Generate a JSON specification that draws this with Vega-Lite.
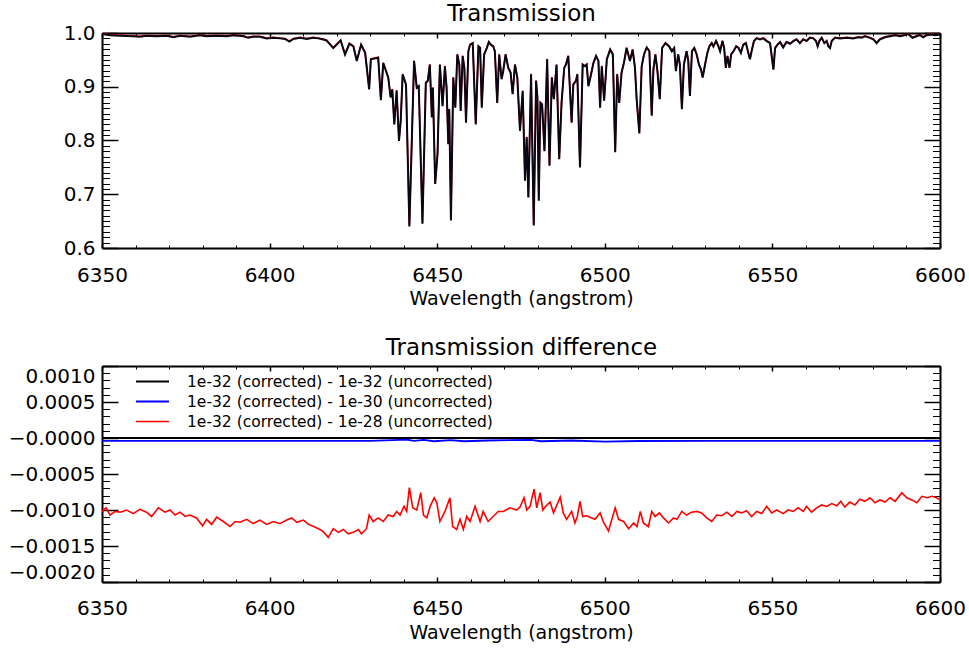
{
  "$schema": "https://vega.github.io/schema/vega-lite/v6.json",
  "background": "white",
  "padding": {"left": 8, "top": 2, "right": 4, "bottom": 4},
  "config": {
    "view": {"stroke": null},
    "font": "DejaVu Sans",
    "axis": {"grid": false, "minExtent": 0, "domainColor": "#000", "domainWidth": 2, "tickColor": "#000", "labelColor": "#000", "labelFont": "DejaVu Sans", "labelFontSize": 20, "titleFont": "DejaVu Sans", "titleFontSize": 19, "titleFontWeight": "normal", "titleColor": "#000"}
  },
  "datasets": {
    "trans": [
      {"w":6350,"t":0.998},{"w":6352.4,"t":0.996},{"w":6355.4,"t":0.995},{"w":6359.3,"t":0.994},{"w":6361.3,"t":0.993},{"w":6363.3,"t":0.995},{"w":6366.3,"t":0.994},{"w":6369.3,"t":0.995},{"w":6371.3,"t":0.992},{"w":6373.3,"t":0.995},{"w":6376.3,"t":0.993},{"w":6379.2,"t":0.996},{"w":6381.2,"t":0.994},{"w":6384.2,"t":0.995},{"w":6387.2,"t":0.994},{"w":6389.2,"t":0.996},{"w":6392.2,"t":0.994},{"w":6393.6,"t":0.991},{"w":6395.1,"t":0.993},{"w":6397.1,"t":0.993},{"w":6399.1,"t":0.990},{"w":6401.1,"t":0.991},{"w":6403.1,"t":0.990},{"w":6404.6,"t":0.989},{"w":6405.9,"t":0.984},{"w":6407.1,"t":0.989},{"w":6409.1,"t":0.991},{"w":6411.1,"t":0.989},{"w":6413.0,"t":0.991},{"w":6414.5,"t":0.990},{"w":6416.0,"t":0.988},{"w":6417.0,"t":0.986},{"w":6419.0,"t":0.972},{"w":6421.2,"t":0.986},{"w":6422.5,"t":0.960},{"w":6423.8,"t":0.980},{"w":6425.0,"t":0.975},{"w":6426.0,"t":0.948},{"w":6427.3,"t":0.978},{"w":6428.5,"t":0.963},{"w":6429.7,"t":0.895},{"w":6430.2,"t":0.951},{"w":6432.4,"t":0.954},{"w":6433.2,"t":0.875},{"w":6433.9,"t":0.944},{"w":6434.9,"t":0.926},{"w":6435.4,"t":0.917},{"w":6436.1,"t":0.880},{"w":6436.6,"t":0.895},{"w":6437.2,"t":0.830},{"w":6437.9,"t":0.893},{"w":6438.6,"t":0.799},{"w":6439.1,"t":0.835},{"w":6439.7,"t":0.923},{"w":6440.7,"t":0.904},{"w":6441.7,"t":0.640},{"w":6443.1,"t":0.948},{"w":6443.9,"t":0.898},{"w":6444.5,"t":0.901},{"w":6445.6,"t":0.645},{"w":6446.6,"t":0.907},{"w":6447.2,"t":0.911},{"w":6447.8,"t":0.941},{"w":6448.4,"t":0.843},{"w":6448.7,"t":0.898},{"w":6449.4,"t":0.719},{"w":6450.1,"t":0.775},{"w":6450.8,"t":0.941},{"w":6451.6,"t":0.864},{"w":6452.3,"t":0.938},{"w":6452.8,"t":0.898},{"w":6453.3,"t":0.793},{"w":6453.6,"t":0.858},{"w":6454.1,"t":0.651},{"w":6454.8,"t":0.917},{"w":6455.4,"t":0.861},{"w":6456.0,"t":0.960},{"w":6456.6,"t":0.941},{"w":6457.0,"t":0.855},{"w":6457.6,"t":0.957},{"w":6458.1,"t":0.935},{"w":6458.6,"t":0.833},{"w":6459.3,"t":0.966},{"w":6459.8,"t":0.978},{"w":6460.6,"t":0.981},{"w":6461.5,"t":0.830},{"w":6462.3,"t":0.975},{"w":6462.8,"t":0.972},{"w":6463.3,"t":0.861},{"w":6464.0,"t":0.960},{"w":6464.8,"t":0.972},{"w":6465.4,"t":0.983},{"w":6466.0,"t":0.978},{"w":6466.7,"t":0.975},{"w":6467.2,"t":0.966},{"w":6467.9,"t":0.870},{"w":6468.5,"t":0.960},{"w":6469.2,"t":0.914},{"w":6469.7,"t":0.929},{"w":6470.4,"t":0.960},{"w":6471.2,"t":0.935},{"w":6471.9,"t":0.926},{"w":6472.5,"t":0.886},{"w":6473.2,"t":0.941},{"w":6473.9,"t":0.917},{"w":6474.7,"t":0.818},{"w":6475.5,"t":0.892},{"w":6476.2,"t":0.725},{"w":6476.7,"t":0.806},{"w":6477.2,"t":0.694},{"w":6478.0,"t":0.923},{"w":6478.8,"t":0.642},{"w":6479.5,"t":0.911},{"w":6479.9,"t":0.880},{"w":6480.3,"t":0.688},{"w":6480.8,"t":0.870},{"w":6481.3,"t":0.867},{"w":6482.0,"t":0.780},{"w":6482.8,"t":0.951},{"w":6483.5,"t":0.753},{"w":6484.2,"t":0.917},{"w":6484.8,"t":0.877},{"w":6485.6,"t":0.941},{"w":6486.4,"t":0.765},{"w":6487.1,"t":0.870},{"w":6487.9,"t":0.935},{"w":6488.4,"t":0.941},{"w":6489.1,"t":0.957},{"w":6490.1,"t":0.833},{"w":6490.6,"t":0.904},{"w":6491.4,"t":0.911},{"w":6491.8,"t":0.923},{"w":6492.6,"t":0.750},{"w":6493.4,"t":0.941},{"w":6494.1,"t":0.938},{"w":6494.6,"t":0.941},{"w":6495.1,"t":0.901},{"w":6495.8,"t":0.920},{"w":6496.6,"t":0.944},{"w":6497.4,"t":0.957},{"w":6498.1,"t":0.948},{"w":6498.6,"t":0.861},{"w":6499.1,"t":0.938},{"w":6499.8,"t":0.874},{"w":6500.6,"t":0.951},{"w":6501.6,"t":0.969},{"w":6502.4,"t":0.960},{"w":6503.1,"t":0.778},{"w":6503.7,"t":0.923},{"w":6504.3,"t":0.870},{"w":6505.0,"t":0.926},{"w":6505.7,"t":0.944},{"w":6506.5,"t":0.972},{"w":6507.0,"t":0.960},{"w":6507.5,"t":0.948},{"w":6508.3,"t":0.969},{"w":6509.0,"t":0.935},{"w":6509.5,"t":0.877},{"w":6510.3,"t":0.813},{"w":6511.0,"t":0.938},{"w":6511.7,"t":0.960},{"w":6512.5,"t":0.973},{"w":6513.3,"t":0.966},{"w":6514.0,"t":0.846},{"w":6514.5,"t":0.932},{"w":6515.1,"t":0.960},{"w":6515.7,"t":0.929},{"w":6516.4,"t":0.877},{"w":6517.1,"t":0.972},{"w":6518.1,"t":0.981},{"w":6519.2,"t":0.975},{"w":6520.0,"t":0.966},{"w":6520.7,"t":0.972},{"w":6521.2,"t":0.929},{"w":6521.9,"t":0.960},{"w":6522.4,"t":0.941},{"w":6523.0,"t":0.858},{"w":6523.6,"t":0.941},{"w":6524.4,"t":0.966},{"w":6524.9,"t":0.948},{"w":6525.4,"t":0.883},{"w":6526.0,"t":0.966},{"w":6526.7,"t":0.972},{"w":6527.4,"t":0.960},{"w":6528.1,"t":0.941},{"w":6528.7,"t":0.932},{"w":6529.2,"t":0.917},{"w":6529.9,"t":0.941},{"w":6530.6,"t":0.963},{"w":6531.2,"t":0.975},{"w":6531.9,"t":0.981},{"w":6532.4,"t":0.975},{"w":6533.2,"t":0.985},{"w":6533.9,"t":0.975},{"w":6534.4,"t":0.966},{"w":6535.1,"t":0.985},{"w":6535.6,"t":0.972},{"w":6536.1,"t":0.935},{"w":6536.6,"t":0.957},{"w":6537.2,"t":0.935},{"w":6537.7,"t":0.960},{"w":6538.4,"t":0.966},{"w":6539.2,"t":0.975},{"w":6539.9,"t":0.972},{"w":6540.6,"t":0.963},{"w":6541.3,"t":0.978},{"w":6542.1,"t":0.981},{"w":6542.8,"t":0.963},{"w":6543.3,"t":0.951},{"w":6543.8,"t":0.966},{"w":6544.5,"t":0.985},{"w":6545.3,"t":0.990},{"w":6546.3,"t":0.988},{"w":6547.3,"t":0.990},{"w":6548.3,"t":0.985},{"w":6549.3,"t":0.981},{"w":6550.3,"t":0.932},{"w":6550.8,"t":0.972},{"w":6551.5,"t":0.978},{"w":6552.3,"t":0.983},{"w":6553.2,"t":0.973},{"w":6554.2,"t":0.983},{"w":6555.3,"t":0.980},{"w":6556.3,"t":0.985},{"w":6557.2,"t":0.988},{"w":6558.2,"t":0.981},{"w":6559.2,"t":0.988},{"w":6560.2,"t":0.985},{"w":6561.2,"t":0.991},{"w":6562.2,"t":0.990},{"w":6563.0,"t":0.985},{"w":6563.5,"t":0.975},{"w":6564.0,"t":0.985},{"w":6564.7,"t":0.991},{"w":6565.5,"t":0.981},{"w":6566.2,"t":0.985},{"w":6566.7,"t":0.975},{"w":6567.2,"t":0.972},{"w":6567.7,"t":0.985},{"w":6568.7,"t":0.991},{"w":6570.2,"t":0.990},{"w":6572.2,"t":0.991},{"w":6574.1,"t":0.990},{"w":6575.6,"t":0.992},{"w":6576.6,"t":0.991},{"w":6577.6,"t":0.994},{"w":6579.1,"t":0.991},{"w":6580.1,"t":0.988},{"w":6581.1,"t":0.981},{"w":6582.1,"t":0.988},{"w":6583.6,"t":0.992},{"w":6585.1,"t":0.994},{"w":6586.6,"t":0.996},{"w":6588.1,"t":0.994},{"w":6589.6,"t":0.996},{"w":6590.5,"t":0.998},{"w":6591.8,"t":0.991},{"w":6593.0,"t":0.994},{"w":6594.0,"t":0.996},{"w":6595.0,"t":0.992},{"w":6596.0,"t":0.996},{"w":6597.5,"t":0.997},{"w":6598.5,"t":0.996},{"w":6600,"t":0.997}
    ],
    "diff": [
      {"w":6350,"v":0,"s":"1e-32 (corrected) - 1e-32 (uncorrected)"},{"w":6450,"v":0,"s":"1e-32 (corrected) - 1e-32 (uncorrected)"},{"w":6500,"v":0,"s":"1e-32 (corrected) - 1e-32 (uncorrected)"},{"w":6600,"v":0,"s":"1e-32 (corrected) - 1e-32 (uncorrected)"},
      {"w":6350,"v":-0.00004,"s":"1e-32 (corrected) - 1e-30 (uncorrected)"},{"w":6400,"v":-0.00004,"s":"1e-32 (corrected) - 1e-30 (uncorrected)"},{"w":6430,"v":-0.00004,"s":"1e-32 (corrected) - 1e-30 (uncorrected)"},{"w":6441,"v":-0.000022,"s":"1e-32 (corrected) - 1e-30 (uncorrected)"},{"w":6443,"v":-0.00004,"s":"1e-32 (corrected) - 1e-30 (uncorrected)"},{"w":6446,"v":-0.000025,"s":"1e-32 (corrected) - 1e-30 (uncorrected)"},{"w":6449,"v":-0.000045,"s":"1e-32 (corrected) - 1e-30 (uncorrected)"},{"w":6454,"v":-0.00003,"s":"1e-32 (corrected) - 1e-30 (uncorrected)"},{"w":6458,"v":-0.000045,"s":"1e-32 (corrected) - 1e-30 (uncorrected)"},{"w":6465,"v":-0.000035,"s":"1e-32 (corrected) - 1e-30 (uncorrected)"},{"w":6478,"v":-0.000025,"s":"1e-32 (corrected) - 1e-30 (uncorrected)"},{"w":6481,"v":-0.000045,"s":"1e-32 (corrected) - 1e-30 (uncorrected)"},{"w":6490,"v":-0.000035,"s":"1e-32 (corrected) - 1e-30 (uncorrected)"},{"w":6500,"v":-0.00005,"s":"1e-32 (corrected) - 1e-30 (uncorrected)"},{"w":6510,"v":-0.000042,"s":"1e-32 (corrected) - 1e-30 (uncorrected)"},{"w":6530,"v":-0.00004,"s":"1e-32 (corrected) - 1e-30 (uncorrected)"},{"w":6600,"v":-0.00004,"s":"1e-32 (corrected) - 1e-30 (uncorrected)"},
      {"w":6350,"v":-0.00102,"s":"1e-32 (corrected) - 1e-28 (uncorrected)"},{"w":6351.2,"v":-0.00097,"s":"1e-32 (corrected) - 1e-28 (uncorrected)"},{"w":6352.4,"v":-0.00107,"s":"1e-32 (corrected) - 1e-28 (uncorrected)"},{"w":6353.9,"v":-0.00102,"s":"1e-32 (corrected) - 1e-28 (uncorrected)"},{"w":6355.4,"v":-0.00103,"s":"1e-32 (corrected) - 1e-28 (uncorrected)"},{"w":6357.4,"v":-0.001,"s":"1e-32 (corrected) - 1e-28 (uncorrected)"},{"w":6359.3,"v":-0.00105,"s":"1e-32 (corrected) - 1e-28 (uncorrected)"},{"w":6361.3,"v":-0.00099,"s":"1e-32 (corrected) - 1e-28 (uncorrected)"},{"w":6363.3,"v":-0.00103,"s":"1e-32 (corrected) - 1e-28 (uncorrected)"},{"w":6364.8,"v":-0.00109,"s":"1e-32 (corrected) - 1e-28 (uncorrected)"},{"w":6366.8,"v":-0.00097,"s":"1e-32 (corrected) - 1e-28 (uncorrected)"},{"w":6368.8,"v":-0.00103,"s":"1e-32 (corrected) - 1e-28 (uncorrected)"},{"w":6370.3,"v":-0.001,"s":"1e-32 (corrected) - 1e-28 (uncorrected)"},{"w":6371.8,"v":-0.00107,"s":"1e-32 (corrected) - 1e-28 (uncorrected)"},{"w":6373.3,"v":-0.00103,"s":"1e-32 (corrected) - 1e-28 (uncorrected)"},{"w":6374.8,"v":-0.00109,"s":"1e-32 (corrected) - 1e-28 (uncorrected)"},{"w":6376.2,"v":-0.00107,"s":"1e-32 (corrected) - 1e-28 (uncorrected)"},{"w":6378.2,"v":-0.00111,"s":"1e-32 (corrected) - 1e-28 (uncorrected)"},{"w":6380.0,"v":-0.00122,"s":"1e-32 (corrected) - 1e-28 (uncorrected)"},{"w":6381.2,"v":-0.00113,"s":"1e-32 (corrected) - 1e-28 (uncorrected)"},{"w":6382.7,"v":-0.0012,"s":"1e-32 (corrected) - 1e-28 (uncorrected)"},{"w":6384.2,"v":-0.0011,"s":"1e-32 (corrected) - 1e-28 (uncorrected)"},{"w":6386.2,"v":-0.00116,"s":"1e-32 (corrected) - 1e-28 (uncorrected)"},{"w":6388.2,"v":-0.00123,"s":"1e-32 (corrected) - 1e-28 (uncorrected)"},{"w":6389.7,"v":-0.00116,"s":"1e-32 (corrected) - 1e-28 (uncorrected)"},{"w":6391.2,"v":-0.00117,"s":"1e-32 (corrected) - 1e-28 (uncorrected)"},{"w":6393.2,"v":-0.00113,"s":"1e-32 (corrected) - 1e-28 (uncorrected)"},{"w":6395.1,"v":-0.00119,"s":"1e-32 (corrected) - 1e-28 (uncorrected)"},{"w":6397.1,"v":-0.00114,"s":"1e-32 (corrected) - 1e-28 (uncorrected)"},{"w":6399.1,"v":-0.0012,"s":"1e-32 (corrected) - 1e-28 (uncorrected)"},{"w":6401.1,"v":-0.00116,"s":"1e-32 (corrected) - 1e-28 (uncorrected)"},{"w":6403.1,"v":-0.00119,"s":"1e-32 (corrected) - 1e-28 (uncorrected)"},{"w":6405.1,"v":-0.00114,"s":"1e-32 (corrected) - 1e-28 (uncorrected)"},{"w":6406.6,"v":-0.00111,"s":"1e-32 (corrected) - 1e-28 (uncorrected)"},{"w":6408.1,"v":-0.00117,"s":"1e-32 (corrected) - 1e-28 (uncorrected)"},{"w":6410.1,"v":-0.00114,"s":"1e-32 (corrected) - 1e-28 (uncorrected)"},{"w":6411.6,"v":-0.0012,"s":"1e-32 (corrected) - 1e-28 (uncorrected)"},{"w":6413.1,"v":-0.00123,"s":"1e-32 (corrected) - 1e-28 (uncorrected)"},{"w":6414.6,"v":-0.00126,"s":"1e-32 (corrected) - 1e-28 (uncorrected)"},{"w":6416.0,"v":-0.0013,"s":"1e-32 (corrected) - 1e-28 (uncorrected)"},{"w":6417.5,"v":-0.00138,"s":"1e-32 (corrected) - 1e-28 (uncorrected)"},{"w":6419.0,"v":-0.00126,"s":"1e-32 (corrected) - 1e-28 (uncorrected)"},{"w":6420.5,"v":-0.00131,"s":"1e-32 (corrected) - 1e-28 (uncorrected)"},{"w":6422.0,"v":-0.00127,"s":"1e-32 (corrected) - 1e-28 (uncorrected)"},{"w":6423.5,"v":-0.00133,"s":"1e-32 (corrected) - 1e-28 (uncorrected)"},{"w":6425.0,"v":-0.00131,"s":"1e-32 (corrected) - 1e-28 (uncorrected)"},{"w":6426.5,"v":-0.00127,"s":"1e-32 (corrected) - 1e-28 (uncorrected)"},{"w":6427.4,"v":-0.00133,"s":"1e-32 (corrected) - 1e-28 (uncorrected)"},{"w":6428.9,"v":-0.00126,"s":"1e-32 (corrected) - 1e-28 (uncorrected)"},{"w":6429.7,"v":-0.00107,"s":"1e-32 (corrected) - 1e-28 (uncorrected)"},{"w":6430.9,"v":-0.00116,"s":"1e-32 (corrected) - 1e-28 (uncorrected)"},{"w":6432.4,"v":-0.00111,"s":"1e-32 (corrected) - 1e-28 (uncorrected)"},{"w":6433.9,"v":-0.00116,"s":"1e-32 (corrected) - 1e-28 (uncorrected)"},{"w":6435.4,"v":-0.00107,"s":"1e-32 (corrected) - 1e-28 (uncorrected)"},{"w":6436.9,"v":-0.00109,"s":"1e-32 (corrected) - 1e-28 (uncorrected)"},{"w":6437.9,"v":-0.00102,"s":"1e-32 (corrected) - 1e-28 (uncorrected)"},{"w":6438.9,"v":-0.00107,"s":"1e-32 (corrected) - 1e-28 (uncorrected)"},{"w":6440.1,"v":-0.00095,"s":"1e-32 (corrected) - 1e-28 (uncorrected)"},{"w":6440.9,"v":-0.00102,"s":"1e-32 (corrected) - 1e-28 (uncorrected)"},{"w":6441.7,"v":-0.00069,"s":"1e-32 (corrected) - 1e-28 (uncorrected)"},{"w":6442.7,"v":-0.00097,"s":"1e-32 (corrected) - 1e-28 (uncorrected)"},{"w":6443.9,"v":-0.001,"s":"1e-32 (corrected) - 1e-28 (uncorrected)"},{"w":6445.1,"v":-0.00076,"s":"1e-32 (corrected) - 1e-28 (uncorrected)"},{"w":6445.9,"v":-0.00107,"s":"1e-32 (corrected) - 1e-28 (uncorrected)"},{"w":6446.9,"v":-0.00111,"s":"1e-32 (corrected) - 1e-28 (uncorrected)"},{"w":6447.9,"v":-0.00095,"s":"1e-32 (corrected) - 1e-28 (uncorrected)"},{"w":6449.1,"v":-0.00083,"s":"1e-32 (corrected) - 1e-28 (uncorrected)"},{"w":6449.9,"v":-0.0009,"s":"1e-32 (corrected) - 1e-28 (uncorrected)"},{"w":6450.8,"v":-0.00116,"s":"1e-32 (corrected) - 1e-28 (uncorrected)"},{"w":6452.3,"v":-0.00102,"s":"1e-32 (corrected) - 1e-28 (uncorrected)"},{"w":6453.8,"v":-0.00083,"s":"1e-32 (corrected) - 1e-28 (uncorrected)"},{"w":6454.6,"v":-0.00123,"s":"1e-32 (corrected) - 1e-28 (uncorrected)"},{"w":6455.8,"v":-0.00127,"s":"1e-32 (corrected) - 1e-28 (uncorrected)"},{"w":6456.8,"v":-0.00113,"s":"1e-32 (corrected) - 1e-28 (uncorrected)"},{"w":6457.8,"v":-0.00127,"s":"1e-32 (corrected) - 1e-28 (uncorrected)"},{"w":6458.8,"v":-0.00109,"s":"1e-32 (corrected) - 1e-28 (uncorrected)"},{"w":6459.8,"v":-0.00116,"s":"1e-32 (corrected) - 1e-28 (uncorrected)"},{"w":6461.3,"v":-0.00095,"s":"1e-32 (corrected) - 1e-28 (uncorrected)"},{"w":6462.8,"v":-0.00116,"s":"1e-32 (corrected) - 1e-28 (uncorrected)"},{"w":6463.7,"v":-0.00102,"s":"1e-32 (corrected) - 1e-28 (uncorrected)"},{"w":6465.2,"v":-0.00116,"s":"1e-32 (corrected) - 1e-28 (uncorrected)"},{"w":6466.7,"v":-0.00109,"s":"1e-32 (corrected) - 1e-28 (uncorrected)"},{"w":6468.2,"v":-0.00102,"s":"1e-32 (corrected) - 1e-28 (uncorrected)"},{"w":6469.7,"v":-0.00102,"s":"1e-32 (corrected) - 1e-28 (uncorrected)"},{"w":6471.7,"v":-0.00097,"s":"1e-32 (corrected) - 1e-28 (uncorrected)"},{"w":6473.7,"v":-0.001,"s":"1e-32 (corrected) - 1e-28 (uncorrected)"},{"w":6474.7,"v":-0.00096,"s":"1e-32 (corrected) - 1e-28 (uncorrected)"},{"w":6475.9,"v":-0.00083,"s":"1e-32 (corrected) - 1e-28 (uncorrected)"},{"w":6476.7,"v":-0.001,"s":"1e-32 (corrected) - 1e-28 (uncorrected)"},{"w":6477.7,"v":-0.00095,"s":"1e-32 (corrected) - 1e-28 (uncorrected)"},{"w":6478.9,"v":-0.00071,"s":"1e-32 (corrected) - 1e-28 (uncorrected)"},{"w":6479.7,"v":-0.00097,"s":"1e-32 (corrected) - 1e-28 (uncorrected)"},{"w":6480.7,"v":-0.00076,"s":"1e-32 (corrected) - 1e-28 (uncorrected)"},{"w":6481.5,"v":-0.001,"s":"1e-32 (corrected) - 1e-28 (uncorrected)"},{"w":6482.7,"v":-0.00093,"s":"1e-32 (corrected) - 1e-28 (uncorrected)"},{"w":6483.7,"v":-0.00089,"s":"1e-32 (corrected) - 1e-28 (uncorrected)"},{"w":6484.7,"v":-0.00104,"s":"1e-32 (corrected) - 1e-28 (uncorrected)"},{"w":6485.7,"v":-0.00093,"s":"1e-32 (corrected) - 1e-28 (uncorrected)"},{"w":6486.7,"v":-0.00082,"s":"1e-32 (corrected) - 1e-28 (uncorrected)"},{"w":6487.6,"v":-0.00104,"s":"1e-32 (corrected) - 1e-28 (uncorrected)"},{"w":6488.6,"v":-0.00113,"s":"1e-32 (corrected) - 1e-28 (uncorrected)"},{"w":6490.1,"v":-0.00102,"s":"1e-32 (corrected) - 1e-28 (uncorrected)"},{"w":6491.1,"v":-0.00118,"s":"1e-32 (corrected) - 1e-28 (uncorrected)"},{"w":6491.8,"v":-0.00109,"s":"1e-32 (corrected) - 1e-28 (uncorrected)"},{"w":6492.6,"v":-0.00088,"s":"1e-32 (corrected) - 1e-28 (uncorrected)"},{"w":6493.4,"v":-0.00109,"s":"1e-32 (corrected) - 1e-28 (uncorrected)"},{"w":6494.6,"v":-0.00108,"s":"1e-32 (corrected) - 1e-28 (uncorrected)"},{"w":6496.1,"v":-0.00111,"s":"1e-32 (corrected) - 1e-28 (uncorrected)"},{"w":6497.1,"v":-0.00113,"s":"1e-32 (corrected) - 1e-28 (uncorrected)"},{"w":6498.6,"v":-0.00104,"s":"1e-32 (corrected) - 1e-28 (uncorrected)"},{"w":6499.6,"v":-0.00117,"s":"1e-32 (corrected) - 1e-28 (uncorrected)"},{"w":6501.1,"v":-0.00129,"s":"1e-32 (corrected) - 1e-28 (uncorrected)"},{"w":6502.1,"v":-0.00113,"s":"1e-32 (corrected) - 1e-28 (uncorrected)"},{"w":6503.1,"v":-0.00097,"s":"1e-32 (corrected) - 1e-28 (uncorrected)"},{"w":6504.1,"v":-0.00113,"s":"1e-32 (corrected) - 1e-28 (uncorrected)"},{"w":6505.6,"v":-0.00116,"s":"1e-32 (corrected) - 1e-28 (uncorrected)"},{"w":6507.1,"v":-0.00126,"s":"1e-32 (corrected) - 1e-28 (uncorrected)"},{"w":6508.6,"v":-0.00118,"s":"1e-32 (corrected) - 1e-28 (uncorrected)"},{"w":6509.6,"v":-0.00123,"s":"1e-32 (corrected) - 1e-28 (uncorrected)"},{"w":6510.6,"v":-0.00102,"s":"1e-32 (corrected) - 1e-28 (uncorrected)"},{"w":6511.5,"v":-0.00118,"s":"1e-32 (corrected) - 1e-28 (uncorrected)"},{"w":6513.0,"v":-0.00123,"s":"1e-32 (corrected) - 1e-28 (uncorrected)"},{"w":6514.0,"v":-0.00102,"s":"1e-32 (corrected) - 1e-28 (uncorrected)"},{"w":6515.0,"v":-0.00109,"s":"1e-32 (corrected) - 1e-28 (uncorrected)"},{"w":6516.3,"v":-0.00104,"s":"1e-32 (corrected) - 1e-28 (uncorrected)"},{"w":6517.5,"v":-0.00111,"s":"1e-32 (corrected) - 1e-28 (uncorrected)"},{"w":6519.0,"v":-0.00118,"s":"1e-32 (corrected) - 1e-28 (uncorrected)"},{"w":6520.5,"v":-0.00111,"s":"1e-32 (corrected) - 1e-28 (uncorrected)"},{"w":6521.5,"v":-0.00113,"s":"1e-32 (corrected) - 1e-28 (uncorrected)"},{"w":6523.0,"v":-0.00102,"s":"1e-32 (corrected) - 1e-28 (uncorrected)"},{"w":6524.4,"v":-0.00107,"s":"1e-32 (corrected) - 1e-28 (uncorrected)"},{"w":6525.9,"v":-0.00103,"s":"1e-32 (corrected) - 1e-28 (uncorrected)"},{"w":6527.4,"v":-0.00102,"s":"1e-32 (corrected) - 1e-28 (uncorrected)"},{"w":6528.9,"v":-0.00104,"s":"1e-32 (corrected) - 1e-28 (uncorrected)"},{"w":6530.4,"v":-0.00111,"s":"1e-32 (corrected) - 1e-28 (uncorrected)"},{"w":6531.9,"v":-0.00116,"s":"1e-32 (corrected) - 1e-28 (uncorrected)"},{"w":6533.4,"v":-0.00107,"s":"1e-32 (corrected) - 1e-28 (uncorrected)"},{"w":6534.9,"v":-0.00108,"s":"1e-32 (corrected) - 1e-28 (uncorrected)"},{"w":6536.4,"v":-0.00103,"s":"1e-32 (corrected) - 1e-28 (uncorrected)"},{"w":6537.9,"v":-0.00109,"s":"1e-32 (corrected) - 1e-28 (uncorrected)"},{"w":6539.4,"v":-0.00102,"s":"1e-32 (corrected) - 1e-28 (uncorrected)"},{"w":6540.8,"v":-0.00104,"s":"1e-32 (corrected) - 1e-28 (uncorrected)"},{"w":6542.3,"v":-0.00101,"s":"1e-32 (corrected) - 1e-28 (uncorrected)"},{"w":6543.8,"v":-0.00109,"s":"1e-32 (corrected) - 1e-28 (uncorrected)"},{"w":6545.3,"v":-0.00102,"s":"1e-32 (corrected) - 1e-28 (uncorrected)"},{"w":6546.8,"v":-0.00105,"s":"1e-32 (corrected) - 1e-28 (uncorrected)"},{"w":6548.3,"v":-0.00095,"s":"1e-32 (corrected) - 1e-28 (uncorrected)"},{"w":6549.8,"v":-0.00104,"s":"1e-32 (corrected) - 1e-28 (uncorrected)"},{"w":6551.3,"v":-0.001,"s":"1e-32 (corrected) - 1e-28 (uncorrected)"},{"w":6553.2,"v":-0.00105,"s":"1e-32 (corrected) - 1e-28 (uncorrected)"},{"w":6554.7,"v":-0.001,"s":"1e-32 (corrected) - 1e-28 (uncorrected)"},{"w":6556.2,"v":-0.00102,"s":"1e-32 (corrected) - 1e-28 (uncorrected)"},{"w":6557.7,"v":-0.00097,"s":"1e-32 (corrected) - 1e-28 (uncorrected)"},{"w":6559.2,"v":-0.00102,"s":"1e-32 (corrected) - 1e-28 (uncorrected)"},{"w":6560.2,"v":-0.00095,"s":"1e-32 (corrected) - 1e-28 (uncorrected)"},{"w":6561.7,"v":-0.00103,"s":"1e-32 (corrected) - 1e-28 (uncorrected)"},{"w":6563.2,"v":-0.00097,"s":"1e-32 (corrected) - 1e-28 (uncorrected)"},{"w":6564.7,"v":-0.00093,"s":"1e-32 (corrected) - 1e-28 (uncorrected)"},{"w":6566.2,"v":-0.00095,"s":"1e-32 (corrected) - 1e-28 (uncorrected)"},{"w":6567.7,"v":-0.00091,"s":"1e-32 (corrected) - 1e-28 (uncorrected)"},{"w":6569.2,"v":-0.00094,"s":"1e-32 (corrected) - 1e-28 (uncorrected)"},{"w":6570.4,"v":-0.00088,"s":"1e-32 (corrected) - 1e-28 (uncorrected)"},{"w":6571.6,"v":-0.00096,"s":"1e-32 (corrected) - 1e-28 (uncorrected)"},{"w":6573.1,"v":-0.00089,"s":"1e-32 (corrected) - 1e-28 (uncorrected)"},{"w":6574.6,"v":-0.00093,"s":"1e-32 (corrected) - 1e-28 (uncorrected)"},{"w":6576.1,"v":-0.00085,"s":"1e-32 (corrected) - 1e-28 (uncorrected)"},{"w":6577.6,"v":-0.00088,"s":"1e-32 (corrected) - 1e-28 (uncorrected)"},{"w":6579.1,"v":-0.00083,"s":"1e-32 (corrected) - 1e-28 (uncorrected)"},{"w":6580.6,"v":-0.0009,"s":"1e-32 (corrected) - 1e-28 (uncorrected)"},{"w":6582.1,"v":-0.00086,"s":"1e-32 (corrected) - 1e-28 (uncorrected)"},{"w":6583.6,"v":-0.00089,"s":"1e-32 (corrected) - 1e-28 (uncorrected)"},{"w":6585.1,"v":-0.00083,"s":"1e-32 (corrected) - 1e-28 (uncorrected)"},{"w":6586.6,"v":-0.00088,"s":"1e-32 (corrected) - 1e-28 (uncorrected)"},{"w":6588.6,"v":-0.00076,"s":"1e-32 (corrected) - 1e-28 (uncorrected)"},{"w":6590.1,"v":-0.00083,"s":"1e-32 (corrected) - 1e-28 (uncorrected)"},{"w":6591.6,"v":-0.00086,"s":"1e-32 (corrected) - 1e-28 (uncorrected)"},{"w":6593.1,"v":-0.0009,"s":"1e-32 (corrected) - 1e-28 (uncorrected)"},{"w":6594.6,"v":-0.00081,"s":"1e-32 (corrected) - 1e-28 (uncorrected)"},{"w":6596.1,"v":-0.00083,"s":"1e-32 (corrected) - 1e-28 (uncorrected)"},{"w":6597.6,"v":-0.00081,"s":"1e-32 (corrected) - 1e-28 (uncorrected)"},{"w":6599.0,"v":-0.00083,"s":"1e-32 (corrected) - 1e-28 (uncorrected)"},{"w":6600,"v":-0.00086,"s":"1e-32 (corrected) - 1e-28 (uncorrected)"}
    ]
  },
  "bounds": "flush",
  "spacing": 118,
  "resolve": {"legend": {"color": "independent", "strokeWidth": "independent"}},
  "vconcat": [
    {
      "width": 838,
      "height": 215,
      "data": {"name": "trans"},
      "resolve": {"axis": {"x": "independent", "y": "independent"}},
      "layer": [
        {
          "mark": {"type": "line", "color": "#ff0000", "strokeWidth": 1.5, "yOffset": -0.5},
          "encoding": {
            "x": {"field": "w", "type": "quantitative", "scale": {"domain": [6350, 6600], "nice": false, "zero": false}, "axis": null},
            "y": {"field": "t", "type": "quantitative", "scale": {"domain": [0.6, 1.0], "nice": false, "zero": false}, "axis": null}
          }
        },
        {
          "mark": {"type": "line", "color": "#0a0614", "strokeWidth": 2},
          "encoding": {
            "x": {"field": "w", "type": "quantitative", "axis": {"orient": "bottom", "values": [6350, 6400, 6450, 6500, 6550, 6600], "format": "d", "ticks": false, "labelPadding": 17, "labelFlush": false, "labelOverlap": false, "title": "Wavelength (angstrom)", "titleY": 56, "titleBaseline": "alphabetic"}},
            "y": {"field": "t", "type": "quantitative", "axis": {"orient": "left", "values": [0.6, 0.7, 0.8, 0.9, 1.0], "format": ".1f", "ticks": false, "labelPadding": 7, "labelFlush": false, "labelOverlap": false, "title": null}}
          }
        },
        {
          "transform": [{"filter": "datum.w == 6350"}],
          "mark": {"type": "point", "opacity": 0},
          "encoding": {
            "x": {"field": "w", "type": "quantitative", "axis": {"orient": "bottom", "values": [6350, 6400, 6450, 6500, 6550, 6600], "labels": false, "domain": false, "tickSize": -5, "tickWidth": 1.5, "title": null}},
            "y": {"field": "t", "type": "quantitative", "axis": {"orient": "left", "values": [0.6, 0.7, 0.8, 0.9, 1.0], "labels": false, "domain": false, "tickSize": -16, "tickWidth": 1.5, "title": null}}
          }
        },
        {
          "transform": [{"filter": "datum.w == 6350"}],
          "mark": {"type": "point", "opacity": 0},
          "encoding": {
            "x": {"field": "w", "type": "quantitative", "axis": {"orient": "bottom", "values": [6360, 6370, 6380, 6390, 6410, 6420, 6430, 6440, 6460, 6470, 6480, 6490, 6510, 6520, 6530, 6540, 6560, 6570, 6580, 6590], "labels": false, "domain": false, "tickSize": -3, "tickWidth": 1, "title": null}},
            "y": {"field": "t", "type": "quantitative", "axis": {"orient": "left", "values": [0.61, 0.62, 0.63, 0.64, 0.65, 0.66, 0.67, 0.68, 0.69, 0.71, 0.72, 0.73, 0.74, 0.75, 0.76, 0.77, 0.78, 0.79, 0.81, 0.82, 0.83, 0.84, 0.85, 0.86, 0.87, 0.88, 0.89, 0.91, 0.92, 0.93, 0.94, 0.95, 0.96, 0.97, 0.98, 0.99], "labels": false, "domain": false, "tickSize": -7.5, "tickWidth": 1, "title": null}}
          }
        },
        {
          "transform": [{"filter": "datum.w == 6350"}],
          "mark": {"type": "point", "opacity": 0},
          "encoding": {
            "x": {"field": "w", "type": "quantitative", "axis": {"orient": "top", "values": [6350, 6400, 6450, 6500, 6550, 6600], "labels": false, "domain": true, "tickSize": -5, "tickWidth": 1.5, "title": "Transmission", "titleFontSize": 23, "titleY": -13, "titleBaseline": "alphabetic"}},
            "y": {"field": "t", "type": "quantitative", "axis": {"orient": "right", "values": [0.6, 0.7, 0.8, 0.9, 1.0], "labels": false, "domain": true, "tickSize": -16, "tickWidth": 1.5, "title": null}}
          }
        },
        {
          "transform": [{"filter": "datum.w == 6350"}],
          "mark": {"type": "point", "opacity": 0},
          "encoding": {
            "x": {"field": "w", "type": "quantitative", "axis": {"orient": "top", "values": [6360, 6370, 6380, 6390, 6410, 6420, 6430, 6440, 6460, 6470, 6480, 6490, 6510, 6520, 6530, 6540, 6560, 6570, 6580, 6590], "labels": false, "domain": false, "tickSize": -3, "tickWidth": 1, "title": null}},
            "y": {"field": "t", "type": "quantitative", "axis": {"orient": "right", "values": [0.61, 0.62, 0.63, 0.64, 0.65, 0.66, 0.67, 0.68, 0.69, 0.71, 0.72, 0.73, 0.74, 0.75, 0.76, 0.77, 0.78, 0.79, 0.81, 0.82, 0.83, 0.84, 0.85, 0.86, 0.87, 0.88, 0.89, 0.91, 0.92, 0.93, 0.94, 0.95, 0.96, 0.97, 0.98, 0.99], "labels": false, "domain": false, "tickSize": -7.5, "tickWidth": 1, "title": null}}
          }
        }
      ]
    },
    {
      "width": 838,
      "height": 216,
      "data": {"name": "diff"},
      "resolve": {"axis": {"x": "independent", "y": "independent"}},
      "layer": [
        {
          "mark": {"type": "line", "clip": true},
          "encoding": {
            "x": {"field": "w", "type": "quantitative", "scale": {"domain": [6350, 6600], "nice": false, "zero": false}, "axis": {"orient": "bottom", "values": [6350, 6400, 6450, 6500, 6550, 6600], "format": "d", "ticks": false, "labelPadding": 16, "labelFlush": false, "labelOverlap": false, "title": "Wavelength (angstrom)", "titleY": 56, "titleBaseline": "alphabetic"}},
            "y": {"field": "v", "type": "quantitative", "scale": {"domain": [-0.002, 0.001], "nice": false, "zero": false}, "axis": {"orient": "left", "values": [-0.002, -0.0015, -0.001, -0.0005, 0, 0.0005, 0.001], "labelExpr": "datum.value > 0.00001 ? format(datum.value, '.4f') : '−' + format(abs(datum.value), '.4f')", "ticks": false, "labelPadding": 7, "labelFlush": true, "labelOverlap": false, "title": null}},
            "color": {"field": "s", "type": "nominal", "scale": {"domain": ["1e-32 (corrected) - 1e-32 (uncorrected)", "1e-32 (corrected) - 1e-30 (uncorrected)", "1e-32 (corrected) - 1e-28 (uncorrected)"], "range": ["#000000", "#0000ff", "#ff0000"]}, "legend": {"orient": "none", "legendX": 41, "legendY": 6, "title": null, "symbolType": "M-2,0H2", "symbolSize": 272, "symbolStrokeWidth": 1.5, "labelFont": "DejaVu Sans", "labelFontSize": 15.5, "labelColor": "#000", "labelOffset": 25, "rowPadding": 2, "padding": 0, "labelLimit": 500}},
            "strokeWidth": {"field": "s", "type": "nominal", "scale": {"domain": ["1e-32 (corrected) - 1e-32 (uncorrected)", "1e-32 (corrected) - 1e-30 (uncorrected)", "1e-32 (corrected) - 1e-28 (uncorrected)"], "range": [2, 1.6, 1.2]}, "legend": null}
          }
        },
        {
          "transform": [{"filter": "datum.w == 6350"}],
          "mark": {"type": "point", "opacity": 0},
          "encoding": {
            "x": {"field": "w", "type": "quantitative", "axis": {"orient": "bottom", "values": [6350, 6400, 6450, 6500, 6550, 6600], "labels": false, "domain": false, "tickSize": -5, "tickWidth": 1.5, "title": null}},
            "y": {"field": "v", "type": "quantitative", "axis": {"orient": "left", "values": [-0.002, -0.0015, -0.001, -0.0005, 0, 0.0005, 0.001], "labels": false, "domain": false, "tickSize": -16, "tickWidth": 1.5, "title": null}}
          }
        },
        {
          "transform": [{"filter": "datum.w == 6350"}],
          "mark": {"type": "point", "opacity": 0},
          "encoding": {
            "x": {"field": "w", "type": "quantitative", "axis": {"orient": "bottom", "values": [6360, 6370, 6380, 6390, 6410, 6420, 6430, 6440, 6460, 6470, 6480, 6490, 6510, 6520, 6530, 6540, 6560, 6570, 6580, 6590], "labels": false, "domain": false, "tickSize": -3, "tickWidth": 1, "title": null}},
            "y": {"field": "v", "type": "quantitative", "axis": {"orient": "left", "values": [-0.0019, -0.0018, -0.0017, -0.0016, -0.0014, -0.0013, -0.0012, -0.0011, -0.0009, -0.0008, -0.0007, -0.0006, -0.0004, -0.0003, -0.0002, -0.0001, 0.0001, 0.0002, 0.0003, 0.0004, 0.0006, 0.0007, 0.0008, 0.0009], "labels": false, "domain": false, "tickSize": -7.5, "tickWidth": 1, "title": null}}
          }
        },
        {
          "transform": [{"filter": "datum.w == 6350"}],
          "mark": {"type": "point", "opacity": 0},
          "encoding": {
            "x": {"field": "w", "type": "quantitative", "axis": {"orient": "top", "values": [6350, 6400, 6450, 6500, 6550, 6600], "labels": false, "domain": true, "tickSize": -5, "tickWidth": 1.5, "title": "Transmission difference", "titleFontSize": 23, "titleY": -12, "titleBaseline": "alphabetic"}},
            "y": {"field": "v", "type": "quantitative", "axis": {"orient": "right", "values": [-0.002, -0.0015, -0.001, -0.0005, 0, 0.0005, 0.001], "labels": false, "domain": true, "tickSize": -16, "tickWidth": 1.5, "title": null}}
          }
        },
        {
          "transform": [{"filter": "datum.w == 6350"}],
          "mark": {"type": "point", "opacity": 0},
          "encoding": {
            "x": {"field": "w", "type": "quantitative", "axis": {"orient": "top", "values": [6360, 6370, 6380, 6390, 6410, 6420, 6430, 6440, 6460, 6470, 6480, 6490, 6510, 6520, 6530, 6540, 6560, 6570, 6580, 6590], "labels": false, "domain": false, "tickSize": -3, "tickWidth": 1, "title": null}},
            "y": {"field": "v", "type": "quantitative", "axis": {"orient": "right", "values": [-0.0019, -0.0018, -0.0017, -0.0016, -0.0014, -0.0013, -0.0012, -0.0011, -0.0009, -0.0008, -0.0007, -0.0006, -0.0004, -0.0003, -0.0002, -0.0001, 0.0001, 0.0002, 0.0003, 0.0004, 0.0006, 0.0007, 0.0008, 0.0009], "labels": false, "domain": false, "tickSize": -7.5, "tickWidth": 1, "title": null}}
          }
        }
      ]
    }
  ]
}
